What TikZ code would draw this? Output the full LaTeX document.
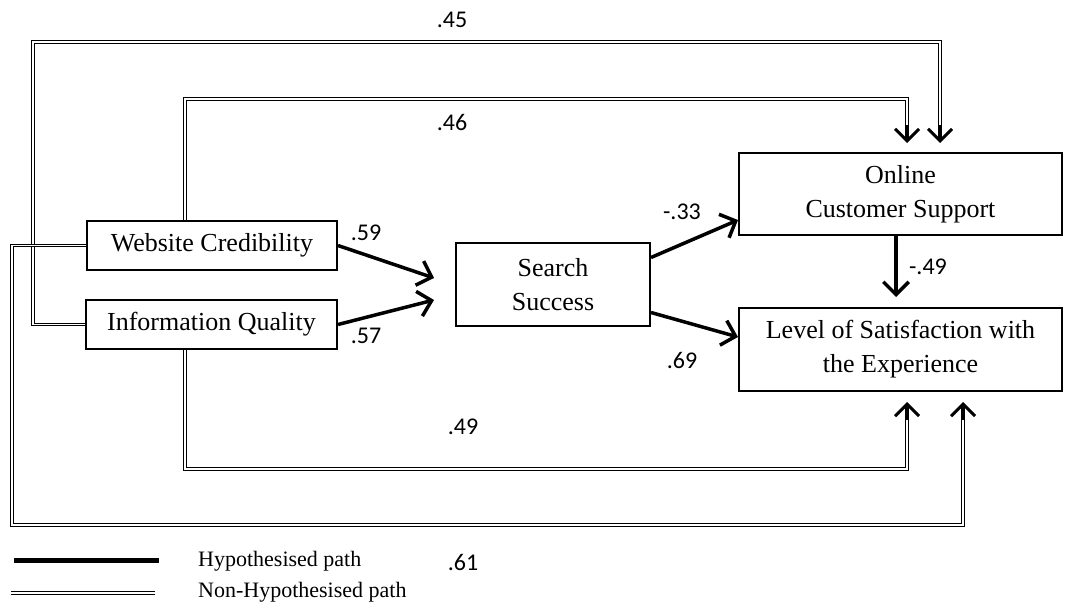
\documentclass[tikz,border=0pt]{standalone}
\usepackage{fontspec}
\setmainfont{Liberation Serif}
\newfontfamily\numfont{Carlito}
\usetikzlibrary{arrows.meta}
\begin{document}
\begin{tikzpicture}[x=1pt,y=1pt,
 box/.style={draw, line width=2pt, inner sep=0pt, align=center, font=\fontsize{26}{34}\selectfont},
 dbl/.style={draw, line width=1pt, double, double distance=1.6pt},
 hyp/.style={line width=3.5pt, -{Straight Barb[scale=1.5]}},
 head/.style={line width=3pt, -{Straight Barb[scale=1.6]}},
 num/.style={font=\numfont\fontsize{24}{24}\selectfont, inner sep=0pt},
 leg/.style={font=\fontsize{22}{22}\selectfont, anchor=west, inner sep=0pt}]
\useasboundingbox (0,0) rectangle (1067,-605);

% nodes
\node[box, minimum width=250pt, minimum height=49pt] (wc) at (212,-245.5) {Website Credibility};
\node[box, minimum width=251pt, minimum height=49pt] (iq) at (211.5,-324.5) {Information Quality};
\node[box, minimum width=194pt, minimum height=83pt] (ss) at (553,-284.5) {Search\\Success};
\node[box, minimum width=323pt, minimum height=82pt] (ocs) at (900.5,-194) {Online\\Customer Support};
\node[box, minimum width=323pt, minimum height=83pt] (los) at (900.5,-349.5) {Level of Satisfaction with\\the Experience};

% non-hypothesised paths
\coordinate (k45) at (33,-42);
\coordinate (t45) at (940,-143);
\draw[dbl] (iq.west) -- (iq.west -| k45) -- (k45) -| ([yshift=3pt]t45);
\draw[head] ([yshift=18pt]t45) -- (t45);

\coordinate (k46) at (185,-99);
\coordinate (t46) at (907,-143);
\draw[dbl] (wc.north -| k46) -- (k46) -| ([yshift=3pt]t46);
\draw[head] ([yshift=18pt]t46) -- (t46);

\coordinate (k49) at (185,-469);
\coordinate (t49) at (907,-402);
\draw[dbl] (iq.south -| k49) -- (k49) -| ([yshift=-3pt]t49);
\draw[head] ([yshift=-18pt]t49) -- (t49);

\coordinate (k61) at (12,-525);
\coordinate (t61) at (963,-402);
\draw[dbl] (wc.west) -- (wc.west -| k61) -- (k61) -| ([yshift=-3pt]t61);
\draw[head] ([yshift=-18pt]t61) -- (t61);

% hypothesised paths
\draw[hyp] (wc.east) -- ([xshift=-21pt,yshift=6.5pt]ss.west);
\draw[hyp] (iq.east) -- ([xshift=-21pt,yshift=-15.5pt]ss.west);
\draw[hyp] ([yshift=27pt]ss.east) -- ([yshift=-26pt]ocs.west);
\draw[hyp] ([yshift=-28pt]ss.east) -- ([yshift=12.5pt]los.west);
\draw[hyp] ([xshift=-4.5pt]ocs.south) -- ([xshift=-4.5pt,yshift=10pt]los.north);

% labels
\node[num] (l45) at (452,-20) {.45};
\node[num] (l46) at (452,-122) {.46};
\node[num] (l59) at (366,-233) {.59};
\node[num] (l57) at (366,-336) {.57};
\node[num] (l33) at (682,-212) {-.33};
\node[num] (l69) at (682,-360) {.69};
\node[num] (l49b) at (928,-267) {-.49};
\node[num] (l49) at (463,-427) {.49};
\node[num] (l61) at (463,-562) {.61};

% legend
\draw[line width=5pt] (14,-560) -- (159,-560);
\draw[line width=1.3pt, double, double distance=1.8pt] (11,-593) -- (155,-593);
\node[leg] (lh) at (198,-561) {Hypothesised path};
\node[leg] (ln) at (198,-592) {Non-Hypothesised path};
\end{tikzpicture}
\end{document}
